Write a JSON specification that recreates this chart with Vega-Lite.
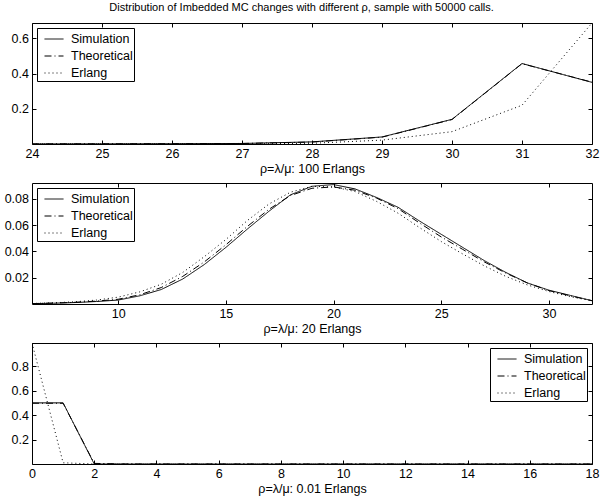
{
  "$schema": "https://vega.github.io/schema/vega-lite/v6.json",
  "padding": {"left": 3, "top": 2, "right": 8, "bottom": 2},
  "background": "white",
  "title": {"text": "Distribution of Imbedded MC changes with different ρ, sample with 50000 calls.", "fontSize": 11, "font": "Liberation Sans", "fontWeight": "normal", "color": "black", "anchor": "middle", "offset": 9},
  "config": {
    "view": {"stroke": "black", "strokeWidth": 1},
    "font": "Liberation Sans",
    "axis": {"domain": false, "grid": false, "tickColor": "black", "tickSize": -4, "labelPadding": 7.5, "labelFontSize": 12.5, "labelColor": "black", "labelFont": "Liberation Sans", "labelFlush": false, "labelOverlap": false, "titleFontSize": 12.5, "titleFontWeight": "normal", "titleColor": "black", "titleFont": "Liberation Sans", "titlePadding": 2},
    "legend": {"title": null, "strokeColor": "black", "fillColor": "white", "padding": 1, "symbolType": "stroke", "symbolSize": 361, "symbolOffset": 6, "symbolStrokeWidth": 1, "symbolStrokeColor": "black", "labelFontSize": 12.5, "labelColor": "black", "labelFont": "Liberation Sans", "rowPadding": -6, "labelOffset": 7, "offset": 5, "cornerRadius": 0, "labelExpr": "datum.label + '  '"}
  },
  "datasets": {
    "p1": [
      {"x": 24, "y": 0.0005, "series": "Simulation"}, {"x": 25, "y": 0.0008, "series": "Simulation"}, {"x": 26, "y": 0.0015, "series": "Simulation"}, {"x": 27, "y": 0.003, "series": "Simulation"}, {"x": 28, "y": 0.012, "series": "Simulation"}, {"x": 29, "y": 0.04, "series": "Simulation"}, {"x": 30, "y": 0.14, "series": "Simulation"}, {"x": 31, "y": 0.457, "series": "Simulation"}, {"x": 32, "y": 0.35, "series": "Simulation"},
      {"x": 24, "y": 0.0005, "series": "Theoretical"}, {"x": 25, "y": 0.0008, "series": "Theoretical"}, {"x": 26, "y": 0.0015, "series": "Theoretical"}, {"x": 27, "y": 0.003, "series": "Theoretical"}, {"x": 28, "y": 0.011, "series": "Theoretical"}, {"x": 29, "y": 0.039, "series": "Theoretical"}, {"x": 30, "y": 0.139, "series": "Theoretical"}, {"x": 31, "y": 0.456, "series": "Theoretical"}, {"x": 32, "y": 0.351, "series": "Theoretical"},
      {"x": 24, "y": 0.0, "series": "Erlang"}, {"x": 25, "y": 0.0, "series": "Erlang"}, {"x": 26, "y": 0.0003, "series": "Erlang"}, {"x": 27, "y": 0.001, "series": "Erlang"}, {"x": 28, "y": 0.004, "series": "Erlang"}, {"x": 29, "y": 0.022, "series": "Erlang"}, {"x": 30, "y": 0.07, "series": "Erlang"}, {"x": 31, "y": 0.22, "series": "Erlang"}, {"x": 32, "y": 0.687, "series": "Erlang"}
    ],
    "p2": [
      {"x": 6, "y": 0.0003, "series": "Simulation"}, {"x": 7, "y": 0.0006, "series": "Simulation"}, {"x": 8, "y": 0.0011, "series": "Simulation"}, {"x": 9, "y": 0.0019, "series": "Simulation"}, {"x": 10, "y": 0.003, "series": "Simulation"}, {"x": 11, "y": 0.0062, "series": "Simulation"}, {"x": 12, "y": 0.011, "series": "Simulation"}, {"x": 13, "y": 0.019, "series": "Simulation"}, {"x": 14, "y": 0.03, "series": "Simulation"}, {"x": 15, "y": 0.043, "series": "Simulation"}, {"x": 16, "y": 0.057, "series": "Simulation"}, {"x": 17, "y": 0.0705, "series": "Simulation"}, {"x": 18, "y": 0.083, "series": "Simulation"}, {"x": 19, "y": 0.0895, "series": "Simulation"}, {"x": 20, "y": 0.0908, "series": "Simulation"}, {"x": 21, "y": 0.0875, "series": "Simulation"}, {"x": 22, "y": 0.081, "series": "Simulation"}, {"x": 23, "y": 0.0735, "series": "Simulation"}, {"x": 24, "y": 0.063, "series": "Simulation"}, {"x": 25, "y": 0.053, "series": "Simulation"}, {"x": 26, "y": 0.043, "series": "Simulation"}, {"x": 27, "y": 0.033, "series": "Simulation"}, {"x": 28, "y": 0.024, "series": "Simulation"}, {"x": 29, "y": 0.016, "series": "Simulation"}, {"x": 30, "y": 0.0105, "series": "Simulation"}, {"x": 31, "y": 0.0065, "series": "Simulation"}, {"x": 32, "y": 0.0025, "series": "Simulation"},
      {"x": 6, "y": 0.0003, "series": "Theoretical"}, {"x": 7, "y": 0.0007, "series": "Theoretical"}, {"x": 8, "y": 0.0013, "series": "Theoretical"}, {"x": 9, "y": 0.0022, "series": "Theoretical"}, {"x": 10, "y": 0.0036, "series": "Theoretical"}, {"x": 11, "y": 0.007, "series": "Theoretical"}, {"x": 12, "y": 0.0125, "series": "Theoretical"}, {"x": 13, "y": 0.021, "series": "Theoretical"}, {"x": 14, "y": 0.032, "series": "Theoretical"}, {"x": 15, "y": 0.045, "series": "Theoretical"}, {"x": 16, "y": 0.059, "series": "Theoretical"}, {"x": 17, "y": 0.072, "series": "Theoretical"}, {"x": 18, "y": 0.0825, "series": "Theoretical"}, {"x": 19, "y": 0.088, "series": "Theoretical"}, {"x": 20, "y": 0.089, "series": "Theoretical"}, {"x": 21, "y": 0.0865, "series": "Theoretical"}, {"x": 22, "y": 0.0805, "series": "Theoretical"}, {"x": 23, "y": 0.0725, "series": "Theoretical"}, {"x": 24, "y": 0.0615, "series": "Theoretical"}, {"x": 25, "y": 0.051, "series": "Theoretical"}, {"x": 26, "y": 0.0415, "series": "Theoretical"}, {"x": 27, "y": 0.032, "series": "Theoretical"}, {"x": 28, "y": 0.0235, "series": "Theoretical"}, {"x": 29, "y": 0.016, "series": "Theoretical"}, {"x": 30, "y": 0.0102, "series": "Theoretical"}, {"x": 31, "y": 0.0062, "series": "Theoretical"}, {"x": 32, "y": 0.0025, "series": "Theoretical"},
      {"x": 6, "y": 0.0004, "series": "Erlang"}, {"x": 7, "y": 0.0009, "series": "Erlang"}, {"x": 8, "y": 0.0017, "series": "Erlang"}, {"x": 9, "y": 0.003, "series": "Erlang"}, {"x": 10, "y": 0.0052, "series": "Erlang"}, {"x": 11, "y": 0.0092, "series": "Erlang"}, {"x": 12, "y": 0.015, "series": "Erlang"}, {"x": 13, "y": 0.024, "series": "Erlang"}, {"x": 14, "y": 0.036, "series": "Erlang"}, {"x": 15, "y": 0.049, "series": "Erlang"}, {"x": 16, "y": 0.0635, "series": "Erlang"}, {"x": 17, "y": 0.076, "series": "Erlang"}, {"x": 18, "y": 0.085, "series": "Erlang"}, {"x": 19, "y": 0.0895, "series": "Erlang"}, {"x": 20, "y": 0.089, "series": "Erlang"}, {"x": 21, "y": 0.0855, "series": "Erlang"}, {"x": 22, "y": 0.078, "series": "Erlang"}, {"x": 23, "y": 0.069, "series": "Erlang"}, {"x": 24, "y": 0.058, "series": "Erlang"}, {"x": 25, "y": 0.0475, "series": "Erlang"}, {"x": 26, "y": 0.038, "series": "Erlang"}, {"x": 27, "y": 0.029, "series": "Erlang"}, {"x": 28, "y": 0.021, "series": "Erlang"}, {"x": 29, "y": 0.0145, "series": "Erlang"}, {"x": 30, "y": 0.0095, "series": "Erlang"}, {"x": 31, "y": 0.0055, "series": "Erlang"}, {"x": 32, "y": 0.0025, "series": "Erlang"}
    ],
    "p3": [
      {"x": 0, "y": 0.5, "series": "Simulation"}, {"x": 1, "y": 0.5, "series": "Simulation"}, {"x": 2, "y": 0.0005, "series": "Simulation"}, {"x": 3, "y": 0, "series": "Simulation"}, {"x": 4, "y": 0, "series": "Simulation"}, {"x": 5, "y": 0, "series": "Simulation"}, {"x": 6, "y": 0, "series": "Simulation"}, {"x": 7, "y": 0, "series": "Simulation"}, {"x": 8, "y": 0, "series": "Simulation"}, {"x": 9, "y": 0, "series": "Simulation"}, {"x": 10, "y": 0, "series": "Simulation"}, {"x": 11, "y": 0, "series": "Simulation"}, {"x": 12, "y": 0, "series": "Simulation"}, {"x": 13, "y": 0, "series": "Simulation"}, {"x": 14, "y": 0, "series": "Simulation"}, {"x": 15, "y": 0, "series": "Simulation"}, {"x": 16, "y": 0, "series": "Simulation"}, {"x": 17, "y": 0, "series": "Simulation"}, {"x": 18, "y": 0, "series": "Simulation"},
      {"x": 0, "y": 0.497, "series": "Theoretical"}, {"x": 1, "y": 0.497, "series": "Theoretical"}, {"x": 2, "y": 0.005, "series": "Theoretical"}, {"x": 3, "y": 0, "series": "Theoretical"}, {"x": 4, "y": 0, "series": "Theoretical"}, {"x": 5, "y": 0, "series": "Theoretical"}, {"x": 6, "y": 0, "series": "Theoretical"}, {"x": 7, "y": 0, "series": "Theoretical"}, {"x": 8, "y": 0, "series": "Theoretical"}, {"x": 9, "y": 0, "series": "Theoretical"}, {"x": 10, "y": 0, "series": "Theoretical"}, {"x": 11, "y": 0, "series": "Theoretical"}, {"x": 12, "y": 0, "series": "Theoretical"}, {"x": 13, "y": 0, "series": "Theoretical"}, {"x": 14, "y": 0, "series": "Theoretical"}, {"x": 15, "y": 0, "series": "Theoretical"}, {"x": 16, "y": 0, "series": "Theoretical"}, {"x": 17, "y": 0, "series": "Theoretical"}, {"x": 18, "y": 0, "series": "Theoretical"},
      {"x": 0, "y": 0.99, "series": "Erlang"}, {"x": 1, "y": 0.0099, "series": "Erlang"}, {"x": 2, "y": 0.0001, "series": "Erlang"}, {"x": 3, "y": 0, "series": "Erlang"}, {"x": 4, "y": 0, "series": "Erlang"}, {"x": 5, "y": 0, "series": "Erlang"}, {"x": 6, "y": 0, "series": "Erlang"}, {"x": 7, "y": 0, "series": "Erlang"}, {"x": 8, "y": 0, "series": "Erlang"}, {"x": 9, "y": 0, "series": "Erlang"}, {"x": 10, "y": 0, "series": "Erlang"}, {"x": 11, "y": 0, "series": "Erlang"}, {"x": 12, "y": 0, "series": "Erlang"}, {"x": 13, "y": 0, "series": "Erlang"}, {"x": 14, "y": 0, "series": "Erlang"}, {"x": 15, "y": 0, "series": "Erlang"}, {"x": 16, "y": 0, "series": "Erlang"}, {"x": 17, "y": 0, "series": "Erlang"}, {"x": 18, "y": 0, "series": "Erlang"}
    ]
  },
  "bounds": "flush",
  "spacing": 39,
  "vconcat": [
    {
      "width": 560, "height": 121,
      "data": {"name": "p1"},
      "resolve": {"axis": {"x": "independent", "y": "independent"}},
      "layer": [
        {
          "mark": {"type": "line", "color": "black", "strokeWidth": 1, "clip": true},
          "encoding": {
            "x": {"field": "x", "type": "quantitative", "scale": {"domain": [24, 32], "nice": false, "zero": false}, "axis": {"values": [24, 25, 26, 27, 28, 29, 30, 31, 32], "title": "ρ=λ/μ: 100 Erlangs"}},
            "y": {"field": "y", "type": "quantitative", "scale": {"domain": [0, 0.687], "nice": false}, "axis": {"values": [0.2, 0.4, 0.6], "title": null}},
            "strokeDash": {"field": "series", "type": "nominal", "scale": {"domain": ["Simulation", "Theoretical", "Erlang"], "range": [[1, 0], [7, 3, 1, 3], [1, 3]]}, "legend": {"orient": "top-left"}}
          }
        },
        {
          "mark": {"type": "line", "opacity": 0, "clip": true},
          "encoding": {
            "x": {"field": "x", "type": "quantitative", "axis": {"orient": "top", "values": [24, 25, 26, 27, 28, 29, 30, 31, 32], "labels": false, "title": null}},
            "y": {"field": "y", "type": "quantitative", "axis": {"orient": "right", "values": [0.2, 0.4, 0.6], "labels": false, "title": null}},
            "detail": {"field": "series", "type": "nominal"}
          }
        }
      ]
    },
    {
      "width": 560, "height": 121,
      "data": {"name": "p2"},
      "resolve": {"axis": {"x": "independent", "y": "independent"}},
      "layer": [
        {
          "mark": {"type": "line", "color": "black", "strokeWidth": 1, "clip": true},
          "encoding": {
            "x": {"field": "x", "type": "quantitative", "scale": {"domain": [6, 32], "nice": false, "zero": false}, "axis": {"values": [10, 15, 20, 25, 30], "title": "ρ=λ/μ: 20 Erlangs"}},
            "y": {"field": "y", "type": "quantitative", "scale": {"domain": [0, 0.092], "nice": false}, "axis": {"values": [0.02, 0.04, 0.06, 0.08], "title": null}},
            "strokeDash": {"field": "series", "type": "nominal", "scale": {"domain": ["Simulation", "Theoretical", "Erlang"], "range": [[1, 0], [7, 3, 1, 3], [1, 3]]}, "legend": {"orient": "top-left"}}
          }
        },
        {
          "mark": {"type": "line", "opacity": 0, "clip": true},
          "encoding": {
            "x": {"field": "x", "type": "quantitative", "axis": {"orient": "top", "values": [10, 15, 20, 25, 30], "labels": false, "title": null}},
            "y": {"field": "y", "type": "quantitative", "axis": {"orient": "right", "values": [0.02, 0.04, 0.06, 0.08], "labels": false, "title": null}},
            "detail": {"field": "series", "type": "nominal"}
          }
        }
      ]
    },
    {
      "width": 560, "height": 121,
      "data": {"name": "p3"},
      "resolve": {"axis": {"x": "independent", "y": "independent"}},
      "layer": [
        {
          "mark": {"type": "line", "color": "black", "strokeWidth": 1, "clip": true},
          "encoding": {
            "x": {"field": "x", "type": "quantitative", "scale": {"domain": [0, 18], "nice": false, "zero": false}, "axis": {"values": [0, 2, 4, 6, 8, 10, 12, 14, 16, 18], "title": "ρ=λ/μ: 0.01 Erlangs"}},
            "y": {"field": "y", "type": "quantitative", "scale": {"domain": [0, 0.99], "nice": false}, "axis": {"values": [0.2, 0.4, 0.6, 0.8], "title": null}},
            "strokeDash": {"field": "series", "type": "nominal", "scale": {"domain": ["Simulation", "Theoretical", "Erlang"], "range": [[1, 0], [7, 3, 1, 3], [1, 3]]}, "legend": {"orient": "top-right"}}
          }
        },
        {
          "mark": {"type": "line", "opacity": 0, "clip": true},
          "encoding": {
            "x": {"field": "x", "type": "quantitative", "axis": {"orient": "top", "values": [0, 2, 4, 6, 8, 10, 12, 14, 16, 18], "labels": false, "title": null}},
            "y": {"field": "y", "type": "quantitative", "axis": {"orient": "right", "values": [0.2, 0.4, 0.6, 0.8], "labels": false, "title": null}},
            "detail": {"field": "series", "type": "nominal"}
          }
        }
      ]
    }
  ]
}
